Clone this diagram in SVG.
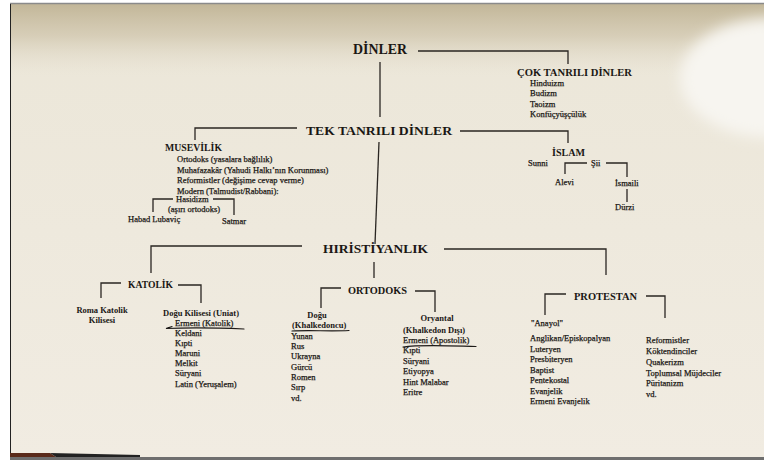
<svg xmlns="http://www.w3.org/2000/svg" width="764" height="460" viewBox="0 0 764 460">
<defs>
<linearGradient id="pg" x1="0" y1="0" x2="0" y2="1">
<stop offset="0" stop-color="#ebe6d8"/><stop offset="1" stop-color="#f1ece2"/>
</linearGradient>
<linearGradient id="sh" x1="0" y1="0" x2="0" y2="1">
<stop offset="0" stop-color="#c2b698" stop-opacity="1"/>
<stop offset="0.45" stop-color="#d2c8b0" stop-opacity="0.8"/>
<stop offset="1" stop-color="#e6e0d0" stop-opacity="0"/>
</linearGradient>
<filter id="blur" x="-30%" y="-60%" width="160%" height="220%"><feGaussianBlur stdDeviation="7"/></filter>
<style>
text{font-family:"Liberation Serif","Times New Roman",serif;fill:#1a1714}
.h1{font-size:14px;font-weight:bold}
.h2{font-size:13.5px;font-weight:bold}
.h3{font-size:10px;font-weight:bold}
.sb{font-size:8.5px;font-weight:bold}
.it{font-size:8.5px;stroke:#1a1714;stroke-width:0.25}
.ln{fill:none;stroke:#2a2622;stroke-width:1.3}
.pen{fill:none;stroke:#1d1a18;stroke-width:1.2;stroke-linecap:round}
</style>
</defs>
<rect width="764" height="460" fill="#ffffff"/>
<rect x="10" y="4" width="754" height="454" fill="url(#pg)"/>
<rect x="10" y="4" width="754" height="72" fill="url(#sh)"/>
<ellipse cx="772" cy="78" rx="92" ry="60" fill="#f7f5f0" filter="url(#blur)"/>
<line x1="10" y1="3.5" x2="764" y2="3.5" stroke="#8a8a8a" stroke-width="1.5"/>
<line x1="10.5" y1="4" x2="10.5" y2="458" stroke="#222" stroke-width="1"/>
<rect x="10" y="457" width="754" height="3" fill="#6e6e6e"/>
<path d="M10,453 L50,453 L56,457 L10,457 Z" fill="#5a2a1a"/>
<path d="M50,453 L140,455 L140,457 L56,457 Z" fill="#222"/>

<g id="connectors">
<path class="ln" d="M418,51 H568 V64"/>
<path class="ln" d="M380,62 V117"/>
<path class="ln" d="M297,128 H195 V140"/>
<path class="ln" d="M460,131 H568 V143"/>
<path class="ln" d="M173,199 H153 V212"/>
<path class="ln" d="M213,199 H234 V215"/>
<path class="ln" d="M587,163 H565 V174"/>
<path class="ln" d="M606,163 H627 V177"/>
<path class="ln" d="M627,189 V202"/>
<path class="ln" d="M379,142 L375,244"/>
<path class="ln" d="M302,246 H151 V273"/>
<path class="ln" d="M444,249 H606 V275"/>
<path class="ln" d="M374,262 V278"/>
<path class="ln" d="M121,283 H101 V298"/>
<path class="ln" d="M178,285 H201 V303"/>
<path class="ln" d="M341,288 H321 V308"/>
<path class="ln" d="M415,291 H435 V312"/>
<path class="ln" d="M566,294 H545 V315"/>
<path class="ln" d="M646,296 H665 V318"/>
</g>

<g id="dinler"><text class="h1" x="353" y="54" textLength="54" lengthAdjust="spacingAndGlyphs">DİNLER</text></g>

<g id="cok-tanrili">
<text class="h3" x="517" y="76" textLength="115" lengthAdjust="spacingAndGlyphs">ÇOK TANRILI DİNLER</text>
<text class="it" x="530" y="85.5">Hinduizm</text>
<text class="it" x="530" y="96">Budizm</text>
<text class="it" x="530" y="106.5">Taoizm</text>
<text class="it" x="530" y="117">Konfüçyüşçülük</text>
</g>

<g id="tek-tanrili"><text class="h2" x="306" y="135" textLength="146" lengthAdjust="spacingAndGlyphs">TEK TANRILI DİNLER</text></g>

<g id="musevilik">
<text class="h3" x="165" y="151" textLength="57" lengthAdjust="spacingAndGlyphs">MUSEVİLİK</text>
<text class="it" x="177" y="162">Ortodoks (yasalara bağlılık)</text>
<text class="it" x="177" y="172.5">Muhafazakâr (Yahudi Halkı’nın Korunması)</text>
<text class="it" x="177" y="183">Reformistler (değişime cevap verme)</text>
<text class="it" x="177" y="193.5">Modern (Talmudist/Rabbani):</text>
</g>
<g id="hasidizm">
<text class="it" x="176" y="202">Hasidizm</text>
<text class="it" x="168" y="211.5">(aşırı ortodoks)</text>
</g>
<g id="habad"><text class="it" x="128" y="222">Habad Lubaviç</text></g>
<g id="satmar"><text class="it" x="222" y="224">Satmar</text></g>

<g id="islam">
<text class="h3" x="552" y="156" textLength="33" lengthAdjust="spacingAndGlyphs">İSLAM</text>
</g>
<g id="sunni"><text class="it" x="528" y="166">Sunni</text></g>
<g id="sii"><text class="it" x="591" y="166">Şii</text></g>
<g id="alevi"><text class="it" x="555" y="185">Alevi</text></g>
<g id="ismaili"><text class="it" x="615" y="186">İsmaili</text></g>
<g id="durzi"><text class="it" x="615" y="210">Dürzi</text></g>

<g id="hiristiyanlik"><text class="h2" x="323" y="253" textLength="105" lengthAdjust="spacingAndGlyphs">HIRİSTİYANLIK</text></g>

<g id="katolik"><text class="h3" x="128" y="288" textLength="45" lengthAdjust="spacingAndGlyphs">KATOLİK</text></g>
<g id="roma-katolik">
<text class="sb" x="102" y="313" text-anchor="middle">Roma Katolik</text>
<text class="sb" x="102" y="323" text-anchor="middle">Kilisesi</text>
</g>
<g id="dogu-kilisesi">
<text class="sb" x="163" y="316">Doğu Kilisesi (Uniat)</text>
<text class="it" x="175" y="326">Ermeni (Katolik)</text>
<text class="it" x="175" y="336">Keldani</text>
<text class="it" x="175" y="346">Kıpti</text>
<text class="it" x="175" y="356">Maruni</text>
<text class="it" x="175" y="366">Melkit</text>
<text class="it" x="175" y="376">Süryani</text>
<text class="it" x="175" y="386.5">Latin (Yeruşalem)</text>
<path class="pen" d="M172,326.5 L166,328.5 C190,327.5 220,328 244,329"/>
</g>

<g id="ortodoks"><text class="h3" x="348" y="294" textLength="59" lengthAdjust="spacingAndGlyphs">ORTODOKS</text></g>
<g id="dogu">
<text class="sb" x="317" y="318" text-anchor="middle">Doğu</text>
<text class="sb" x="292" y="328">(Khalkedoncu)</text>
<text class="it" x="291" y="338.5">Yunan</text>
<text class="it" x="291" y="349">Rus</text>
<text class="it" x="291" y="359">Ukrayna</text>
<text class="it" x="291" y="369.5">Gürcü</text>
<text class="it" x="291" y="380">Romen</text>
<text class="it" x="291" y="390">Sırp</text>
<text class="it" x="291" y="400.5">vd.</text>
<path class="pen" d="M292,331 C310,330 330,331.5 349,330.5"/>
</g>
<g id="oryantal">
<text class="sb" x="437" y="321" text-anchor="middle">Oryantal</text>
<text class="sb" x="403" y="333">(Khalkedon Dışı)</text>
<text class="it" x="403" y="343">Ermeni (Apostolik)</text>
<text class="it" x="403" y="353">Kıpti</text>
<text class="it" x="403" y="363.5">Süryani</text>
<text class="it" x="403" y="374">Etiyopya</text>
<text class="it" x="403" y="384.5">Hint Malabar</text>
<text class="it" x="403" y="395">Eritre</text>
<path class="pen" d="M403,347 C420,344.5 440,345.5 476,346.5"/>
</g>

<g id="protestan"><text class="h3" x="574" y="300" textLength="63" lengthAdjust="spacingAndGlyphs">PROTESTAN</text></g>
<g id="anayol">
<text class="it" x="531" y="326">"Anayol"</text>
<text class="it" x="530" y="341">Anglikan/Episkopalyan</text>
<text class="it" x="530" y="351.5">Luteryen</text>
<text class="it" x="530" y="362">Presbiteryen</text>
<text class="it" x="530" y="372.5">Baptist</text>
<text class="it" x="530" y="383">Pentekostal</text>
<text class="it" x="530" y="393.5">Evanjelik</text>
<text class="it" x="530" y="404">Ermeni Evanjelik</text>
</g>
<g id="diger-protestan">
<text class="it" x="646" y="343">Reformistler</text>
<text class="it" x="646" y="354">Köktendinciler</text>
<text class="it" x="646" y="365">Quakerizm</text>
<text class="it" x="646" y="375.5">Toplumsal Müjdeciler</text>
<text class="it" x="646" y="386">Püritanizm</text>
<text class="it" x="646" y="396.5">vd.</text>
</g>
</svg>
